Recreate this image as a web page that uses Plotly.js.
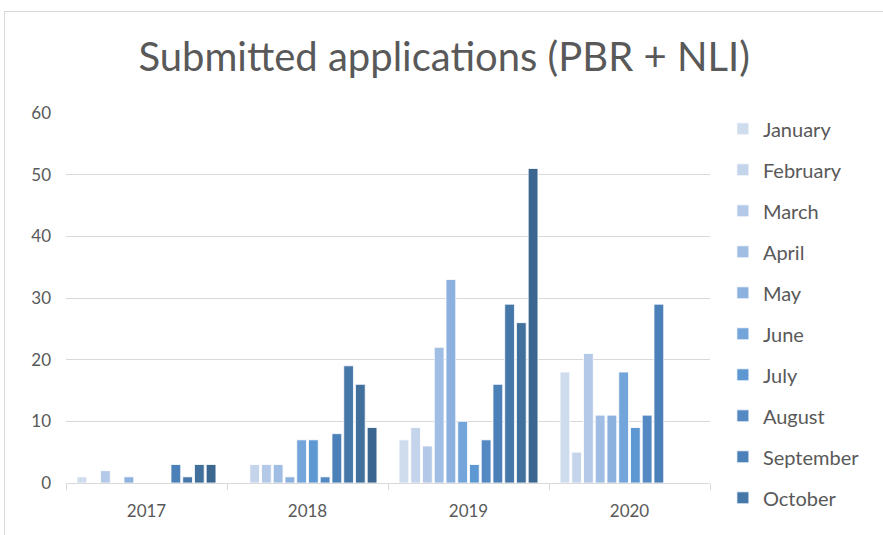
<!DOCTYPE html>
<html>
<head>
<meta charset="utf-8">
<script src="https://cdn.plot.ly/plotly-3.0.1.min.js"></script>
<style>
  html, body { margin: 0; padding: 0; background: #ffffff; overflow: hidden; }
  #chart { position: absolute; left: 0; top: 0; width: 883px; height: 535px; }
  #frame { position: absolute; left: 4px; top: 11px; width: 1000px; height: 1000px;
           border: 1px solid #d9d9d9; pointer-events: none; }
</style>
</head>
<body>
<div id="chart"></div>
<div id="frame"></div>
<script>
const years = ["2017", "2018", "2019", "2020"];
const months = ["January", "February", "March", "April", "May", "June",
                "July", "August", "September", "October", "November", "December"];
// values per month, across years 2017..2020
const jan = [1, 0, 7, 18];
const feb = [0, 3, 9, 5];
const mar = [2, 3, 6, 21];
const apr = [0, 3, 22, 11];
const may = [1, 1, 33, 11];
const jun = [0, 7, 10, 18];
const jul = [0, 7, 3, 9];
const aug = [0, 1, 7, 11];
const sep = [3, 8, 16, 29];
const oct = [1, 19, 29, null];
const nov = [3, 16, 26, null];
const dec = [3, 9, 51, null];
const series = [jan, feb, mar, apr, may, jun, jul, aug, sep, oct, nov, dec];
const colors = ["#cfdcee", "#c4d4eb", "#b4c9e7", "#a0bee3", "#8cb1de", "#73a4da",
                "#5e98d3", "#5489c4", "#4c80b8", "#4677a9", "#41709c", "#3b6690"];

const FONT = "Lato, 'Open Sans', sans-serif";
const traces = series.map((vals, i) => ({
  type: "bar",
  name: months[i],
  x: years,
  y: vals,
  legendgroup: months[i],
  showlegend: i < 10,
  marker: { color: colors[i], line: { color: "#ffffff", width: 0.8 } },
  hoverinfo: "x+y+name"
}));

const layout = {
  width: 883, height: 535,
  margin: { l: 66, r: 173, t: 113, b: 52 },
  paper_bgcolor: "rgba(0,0,0,0)",
  plot_bgcolor: "rgba(0,0,0,0)",
  barmode: "group",
  bargap: 0.125,
  bargroupgap: 0.17,
  title: {
    text: "Submitted applications (PBR + NLI)",
    font: { family: FONT, size: 40, color: "#595959" },
    x: 0.503, xanchor: "center", y: 0.893, yanchor: "middle"
  },
  xaxis: {
    type: "category",
    tickson: "boundaries",
    ticks: "outside", ticklen: 6, tickcolor: "#d9d9d9", tickwidth: 1,
    showline: true, linecolor: "#d9d9d9", linewidth: 1,
    showgrid: false,
    tickfont: { family: FONT, size: 17, color: "#595959" },
    ticklabelstandoff: 13
  },
  yaxis: {
    range: [0, 60],
    dtick: 10,
    showgrid: true, gridcolor: "#d9d9d9", gridwidth: 1,
    zeroline: false, showline: false,
    tickfont: { family: FONT, size: 17, color: "#595959" },
    ticklabelstandoff: 14
  },
  legend: {
    x: 1.02, xanchor: "left",
    y: 1.01, yanchor: "top",
    font: { family: FONT, size: 20, color: "#595959" },
    tracegroupgap: 12,
    traceorder: "grouped",
    maxheight: 520,
    bgcolor: "rgba(0,0,0,0)"
  },
  font: { family: FONT, color: "#595959" }
};

Plotly.newPlot("chart", traces, layout, { displayModeBar: false, staticPlot: true });
</script>
</body>
</html>
